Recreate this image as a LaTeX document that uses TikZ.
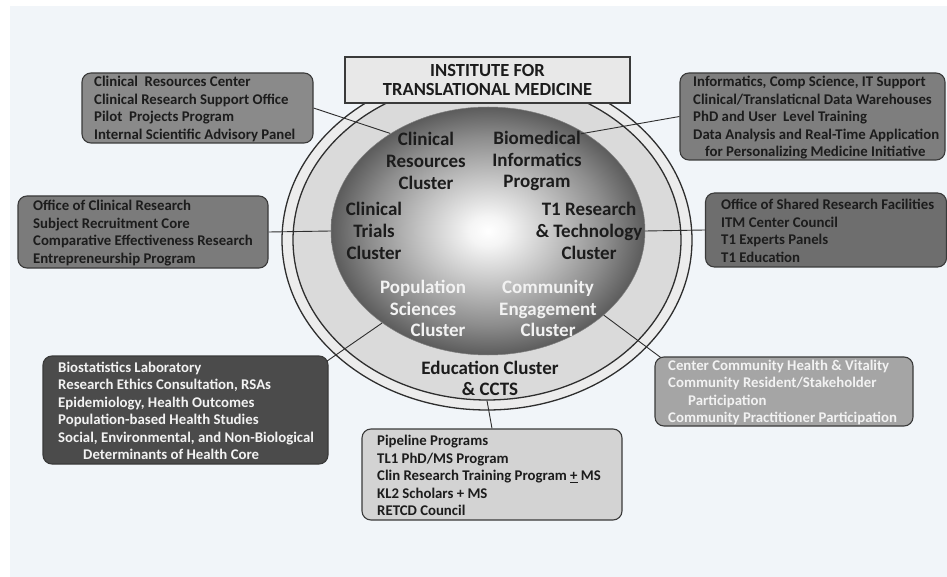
\documentclass[tikz,border=0pt]{standalone}
\usepackage{fontspec}
\setmainfont{Carlito}
\usetikzlibrary{shapes.geometric,calc}

\definecolor{panelbg}{HTML}{F1F5F9}
\definecolor{ringline}{HTML}{2E2E2E}
\definecolor{ringouter}{HTML}{ECECEC}
\definecolor{ringinner}{HTML}{DADADA}
\definecolor{boxline}{HTML}{3A3A3A}
\definecolor{titlefill}{HTML}{E8E8E8}
\definecolor{fillA}{HTML}{8A8A8A}
\definecolor{fillB}{HTML}{7E7E7E}
\definecolor{fillC}{HTML}{7B7B7B}
\definecolor{fillD}{HTML}{6E6E6E}
\definecolor{fillE}{HTML}{4B4B4B}
\definecolor{fillF}{HTML}{A5A5A5}
\definecolor{fillG}{HTML}{D3D3D3}
\definecolor{darktext}{HTML}{1C1C1C}
\definecolor{lighttext}{HTML}{F2F2F2}

% shaded sphere in the middle of the rings
\pgfdeclareradialshading{sphereshade}{\pgfpoint{0bp}{0bp}}{%
  color(0bp)=(white);
  color(3bp)=(white!96!black);
  color(11bp)=(black!24);
  color(19bp)=(black!45);
  color(25bp)=(black!64);
  color(50bp)=(black!64)}

\pgfdeclarelayer{under}
\pgfdeclarelayer{lines}
\pgfsetlayers{under,lines,main}

\newcommand\boxfont{\fontsize{14.8}{17.5}\selectfont\bfseries}
\newcommand\orbfont{\fontsize{19}{21.7}\selectfont\bfseries}
\newcommand\headfont{\fontsize{18.5}{20}\selectfont\bfseries}

\tikzset{
  infobox/.style={draw=boxline, line width=1.1pt, rounded corners=9pt,
    inner sep=0pt},
  infotext/.style={anchor=west, align=left, inner sep=0pt, font=\boxfont,
    text=darktext},
  orbtext/.style={align=center, inner sep=0pt, font=\orbfont, text=darktext},
  link/.style={draw=ringline, line width=0.9pt},
}

\begin{document}
\begin{tikzpicture}[x=1pt,y=-1pt]
\useasboundingbox (0,0) rectangle (947,577);

\begin{pgfonlayer}{under}
  \fill[white] (0,0) rectangle (947,577);
  \fill[panelbg] (10,6) rectangle (947,577);
  % double ring
  \node[ellipse, draw=ringline, line width=1.3pt, fill=ringouter,
        minimum width=410pt, minimum height=340pt, inner sep=0pt]
        (ringout) at (487,240) {};
  \node[ellipse, draw=ringline, line width=1.3pt, fill=ringinner,
        minimum width=388pt, minimum height=320pt, inner sep=0pt]
        (ringin) at (487,240) {};
  % sphere
  \node[ellipse, shade, shading=sphereshade, draw=black!50, line width=0.5pt,
        minimum width=314pt, minimum height=248pt, inner sep=0pt]
        (sphere) at (488,231) {};
\end{pgfonlayer}

% title
\node[draw=boxline, line width=1.2pt, fill=titlefill, minimum width=285pt,
      minimum height=46pt, align=center, font=\headfont, text=darktext]
      (title) at (487.5,80) {INSTITUTE FOR\\TRANSLATIONAL MEDICINE};

% cluster labels on the sphere
\node[orbtext] (crc) at (426,161) {Clinical\\Resources\\Cluster};
\node[orbtext] (bip) at (537,161) {Biomedical\\Informatics\\Program};
\node[orbtext] (ctc) at (374,231) {Clinical\\Trials\\Cluster};
\node[orbtext] (t1c) at (589,231) {T1 Research\\\& Technology\\Cluster};
\node[orbtext, text=lighttext] (psc) at (423,308.5)
      {Population\\Sciences\\\hspace*{30pt}Cluster};
\node[orbtext, text=lighttext] (cec) at (548,308.5)
      {Community\\Engagement\\Cluster};
\node[orbtext] (edu) at (490,378.5) {Education Cluster\\\& CCTS};

% satellite boxes
\node[infobox, fill=fillA, minimum width=231pt, minimum height=70pt]
      (b1) at (197.5,108) {};
\node[infotext] (b1t) at (94,109)
      {Clinical\ \ Resources Center\\Clinical Research Support Office\\
       Pilot\ \ Projects Program\\Internal Scientific Advisory Panel};

\node[infobox, fill=fillB, minimum width=265pt, minimum height=87pt]
      (b2) at (812.5,116.5) {};
\node[infotext] (b2t) at (693,118)
      {Informatics, Comp Science, IT Support\\
       Clinical/Translaticnal Data Warehouses\\
       PhD and User\ \ Level Training\\
       Data Analysis and Real-Time Application\\
       \hspace*{12pt}for Personalizing Medicine Initiative};

\node[infobox, fill=fillC, minimum width=250pt, minimum height=72pt]
      (b3) at (143,232) {};
\node[infotext] (b3t) at (33,233)
      {Office of Clinical Research\\Subject Recruitment Core\\
       Comparative Effectiveness Research\\Entrepreneurship Program};

\node[infobox, fill=fillD, minimum width=241pt, minimum height=74pt]
      (b4) at (826,230) {};
\node[infotext] (b4t) at (721,231)
      {Office of Shared Research Facilities\\ITM Center Council\\
       T1 Experts Panels\\T1 Education};

\node[infobox, fill=fillE, minimum width=285pt, minimum height=108pt]
      (b5) at (185.5,410) {};
\node[infotext, text=lighttext] (b5t) at (58,411)
      {Biostatistics Laboratory\\Research Ethics Consultation, RSAs\\
       Epidemiology, Health Outcomes\\Population-based Health Studies\\
       Social, Environmental, and Non-Biological\\
       \hspace*{25pt}Determinants of Health Core};

\node[infobox, fill=fillF, minimum width=258pt, minimum height=69pt]
      (b6) at (784,391.5) {};
\node[infotext, text=lighttext] (b6t) at (668,392.5)
      {Center Community Health \& Vitality\\Community Resident/Stakeholder\\
       \hspace*{20pt}Participation\\Community Practitioner Participation};

\node[infobox, fill=fillG, minimum width=260pt, minimum height=91pt]
      (b7) at (492,474.5) {};
\node[infotext] (b7t) at (377,475.5)
      {Pipeline Programs\\TL1 PhD/MS Program\\
       Clin Research Training Program \underline{+} MS\\
       KL2 Scholars + MS\\RETCD Council};

% connectors, kept beneath boxes and labels
\coordinate (crcend) at ($(crc.north west)+(4,1)$);
\coordinate (bipend) at ($(bip.north east)+(-1,3)$);
\begin{pgfonlayer}{lines}
  \draw[link] (b1.east) -- (crcend);
  \draw[link] (b2.west) -- (bipend);
  \draw[link] (b3.east) -- (sphere.west);
  \draw[link] (b4.west) -- (sphere.east);
  \draw[link] (sphere.221) -- ($(b5.north east)+(-18,17)$);
  \draw[link] (sphere.324.6) -- ($(b6.north west)+(25,15)$);
  \draw[link] (ringin.south) -- (b7.north);
\end{pgfonlayer}
\end{tikzpicture}
\end{document}
